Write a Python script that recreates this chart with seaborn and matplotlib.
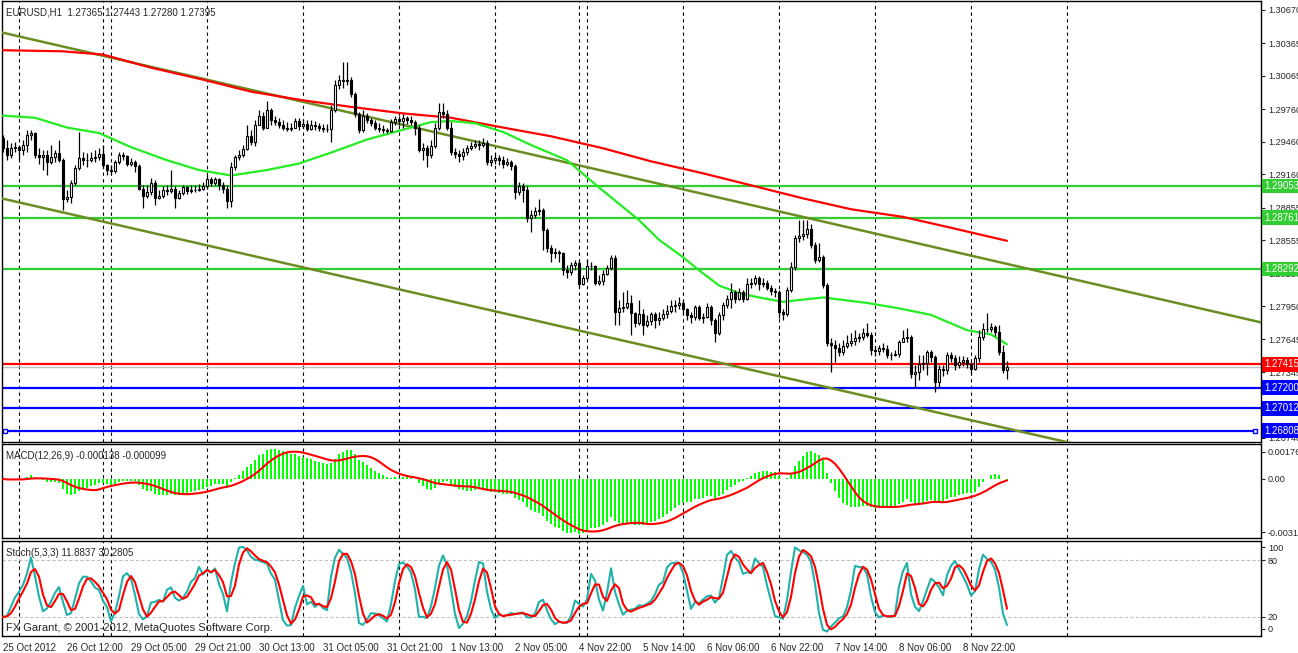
import numpy as np
import pandas as pd
import matplotlib
matplotlib.use("Agg")
import matplotlib.pyplot as plt
import matplotlib.transforms as mtransforms
import seaborn as sns

sns.set_style("white")
plt.rcParams['font.family'] = ['Liberation Sans', 'DejaVu Sans']

# EURUSD H1 candles (bar 0 = 25 Oct 2012 20:00)
first_open = 1.2949
closes = [
    1.2940, 1.2934, 1.2940, 1.2941, 1.2938, 1.2943, 1.2952, 1.2954, 1.2934, 1.2932,
    1.2934, 1.2927, 1.2932, 1.2936, 1.2929, 1.2893, 1.2895, 1.2908, 1.2922, 1.2931,
    1.2929, 1.2929, 1.2931, 1.2932, 1.2935, 1.2925, 1.2920, 1.2919, 1.2927, 1.2934,
    1.2933, 1.2926, 1.2927, 1.2924, 1.2903, 1.2896, 1.2900, 1.2908, 1.2894, 1.2896,
    1.2902, 1.2901, 1.2903, 1.2894, 1.2899, 1.2904, 1.2901, 1.2902, 1.2902, 1.2903,
    1.2905, 1.2912, 1.2908, 1.2912, 1.2906, 1.2903, 1.2892, 1.2923, 1.2932, 1.2934,
    1.2939, 1.2951, 1.2946, 1.2961, 1.2970, 1.2959, 1.2975, 1.2966, 1.2964, 1.2961,
    1.2959, 1.2958, 1.2959, 1.2965, 1.2960, 1.2962, 1.2958, 1.2961, 1.2960, 1.2959,
    1.2958, 1.2958, 1.2975, 1.2998, 1.3003, 1.3002, 1.3003, 1.2990, 1.2971, 1.2957,
    1.2970, 1.2966, 1.2963, 1.2959, 1.2958, 1.2957, 1.2956, 1.2964, 1.2967, 1.2965,
    1.2968, 1.2966, 1.2964, 1.2959, 1.2938, 1.2940, 1.2934, 1.2942, 1.2959, 1.2973,
    1.2971, 1.2959, 1.2937, 1.2935, 1.2933, 1.2937, 1.2940, 1.2942, 1.2944, 1.2943,
    1.2945, 1.2927, 1.2929, 1.2931, 1.2929, 1.2926, 1.2927, 1.2924, 1.2900, 1.2905,
    1.2902, 1.2876, 1.2879, 1.2882, 1.2883, 1.2865, 1.2848, 1.2844, 1.2845, 1.2844,
    1.2828, 1.2826, 1.2833, 1.2835, 1.2815, 1.2821, 1.2832, 1.2832, 1.2816, 1.2818,
    1.2825, 1.2830, 1.2839, 1.2790, 1.2793, 1.2794, 1.2798, 1.2789, 1.2780, 1.2788,
    1.2778, 1.2781, 1.2788, 1.2782, 1.2784, 1.2788, 1.2791, 1.2795, 1.2796, 1.2798,
    1.2792, 1.2787, 1.2785, 1.2794, 1.2784, 1.2785, 1.2794, 1.2782, 1.2770, 1.2787,
    1.2796, 1.2802, 1.2808, 1.2802, 1.2808, 1.2802, 1.2815, 1.2816, 1.2821, 1.2815,
    1.2816, 1.2812, 1.2809, 1.2808, 1.2790, 1.2788, 1.2810, 1.2831, 1.2858, 1.2859,
    1.2861, 1.2866, 1.2851, 1.2837, 1.2840, 1.2814, 1.2761, 1.2759, 1.2757, 1.2753,
    1.2758, 1.2761, 1.2763, 1.2766, 1.2767, 1.2770, 1.2769, 1.2755, 1.2754, 1.2757,
    1.2756, 1.2750, 1.2750, 1.2751, 1.2762, 1.2766, 1.2767, 1.2733, 1.2735, 1.2742,
    1.2743, 1.2753, 1.2748, 1.2725, 1.2737, 1.2736, 1.2750, 1.2747, 1.2741, 1.2744,
    1.2746, 1.2742, 1.2737, 1.2747, 1.2767, 1.2774, 1.2774, 1.2776, 1.2771, 1.2753,
    1.27365, 1.27395,
]
highs = [
    1.2952, 1.2948, 1.2945, 1.2946, 1.2943, 1.2948, 1.2957, 1.2957, 1.2955, 1.2940,
    1.2938, 1.2938, 1.2943, 1.2938, 1.2948, 1.2931, 1.2902, 1.2911, 1.2925, 1.2955,
    1.2937, 1.2936, 1.2937, 1.2938, 1.2940, 1.2943, 1.2926, 1.2925, 1.2929, 1.2937,
    1.2937, 1.2934, 1.2931, 1.2929, 1.2926, 1.2906, 1.2906, 1.2913, 1.2911, 1.2902,
    1.2905, 1.2906, 1.2920, 1.2905, 1.2902, 1.2906, 1.2905, 1.2906, 1.2906, 1.2907,
    1.2909, 1.2915, 1.2914, 1.2914, 1.2913, 1.2909, 1.2906, 1.2927, 1.2934, 1.2938,
    1.2943, 1.2961, 1.2957, 1.2966, 1.2975, 1.2973, 1.2983, 1.2977, 1.2970, 1.2968,
    1.2966, 1.2964, 1.2963, 1.2968, 1.2968, 1.2967, 1.2966, 1.2966, 1.2965, 1.2963,
    1.2962, 1.2962, 1.2980, 1.3003, 1.3007, 1.3019, 1.3019, 1.3005, 1.2992, 1.2973,
    1.2975, 1.2972, 1.2968, 1.2966, 1.2963, 1.2961, 1.2959, 1.2967, 1.2970, 1.2970,
    1.2971, 1.2970, 1.2970, 1.2966, 1.2961, 1.2945, 1.2943, 1.2948, 1.2963, 1.2982,
    1.2982, 1.2975, 1.2964, 1.2940, 1.2938, 1.2940, 1.2943, 1.2946, 1.2948, 1.2948,
    1.2949, 1.2948, 1.2934, 1.2935, 1.2934, 1.2933, 1.2931, 1.2929, 1.2926, 1.2909,
    1.2908, 1.2905, 1.2883, 1.2886, 1.2893, 1.2885, 1.2867, 1.2851, 1.2848, 1.2847,
    1.2845, 1.2833, 1.2836, 1.2837, 1.2837, 1.2824, 1.2837, 1.2836, 1.2833, 1.2824,
    1.2828, 1.2833, 1.2842, 1.2842, 1.2801, 1.2808, 1.2810, 1.2805, 1.2790, 1.2801,
    1.2792, 1.2787, 1.2790, 1.2790, 1.2790, 1.2792, 1.2796, 1.2801, 1.2801, 1.2803,
    1.2801, 1.2793, 1.2790, 1.2796, 1.2796, 1.2789, 1.2798, 1.2796, 1.2784, 1.2790,
    1.2799, 1.2805, 1.2816, 1.2810, 1.2812, 1.2810, 1.2821, 1.2821, 1.2824, 1.2823,
    1.2821, 1.2819, 1.2814, 1.2812, 1.2810, 1.2792, 1.2813, 1.2836, 1.2860, 1.2874,
    1.2874, 1.2874, 1.2870, 1.2854, 1.2853, 1.2842, 1.2816, 1.2766, 1.2764, 1.2761,
    1.2764, 1.2769, 1.2770, 1.2773, 1.2770, 1.2775, 1.2780, 1.2771, 1.2758, 1.2759,
    1.2761, 1.2759, 1.2753, 1.2755, 1.2764, 1.2773, 1.2775, 1.2769, 1.2741, 1.2750,
    1.2750, 1.2755, 1.2755, 1.2750, 1.2741, 1.2741, 1.2753, 1.2753, 1.2750, 1.2749,
    1.2749, 1.2748, 1.2744, 1.2750, 1.2773, 1.2780, 1.2789, 1.2780, 1.2778, 1.2778,
    1.2759, 1.27443,
]
lows = [
    1.2937, 1.2929, 1.2931, 1.2937, 1.2929, 1.2934, 1.2937, 1.2948, 1.2931, 1.2926,
    1.2920, 1.2915, 1.2926, 1.2927, 1.2927, 1.2883, 1.2891, 1.2890, 1.2906, 1.2920,
    1.2925, 1.2923, 1.2927, 1.2927, 1.2929, 1.2922, 1.2915, 1.2916, 1.2917, 1.2926,
    1.2929, 1.2924, 1.2924, 1.2918, 1.2902, 1.2885, 1.2894, 1.2897, 1.2888, 1.2893,
    1.2894, 1.2897, 1.2899, 1.2885, 1.2893, 1.2897, 1.2898, 1.2899, 1.2900, 1.2901,
    1.2902, 1.2903, 1.2905, 1.2906, 1.2902, 1.2899, 1.2885, 1.2886, 1.2920, 1.2929,
    1.2932, 1.2938, 1.2943, 1.2942, 1.2961, 1.2957, 1.2959, 1.2961, 1.2961, 1.2959,
    1.2957, 1.2956, 1.2956, 1.2959, 1.2957, 1.2959, 1.2956, 1.2957, 1.2957, 1.2956,
    1.2955, 1.2955, 1.2946, 1.2973, 1.2994, 1.2995, 1.2998, 1.2987, 1.2969, 1.2954,
    1.2955, 1.2963, 1.2960, 1.2957, 1.2955, 1.2954, 1.2954, 1.2955, 1.2961, 1.2961,
    1.2959, 1.2962, 1.2961, 1.2952, 1.2937, 1.2929, 1.2923, 1.2931, 1.2940, 1.2957,
    1.2968, 1.2957, 1.2934, 1.2931, 1.2927, 1.2929, 1.2934, 1.2938, 1.2940, 1.2938,
    1.2941, 1.2925, 1.2924, 1.2926, 1.2925, 1.2922, 1.2924, 1.2920, 1.2893, 1.2897,
    1.2891, 1.2872, 1.2863, 1.2876, 1.2879, 1.2847, 1.2845, 1.2836, 1.2839, 1.2836,
    1.2824, 1.2821, 1.2824, 1.2828, 1.2812, 1.2814, 1.2819, 1.2828, 1.2814, 1.2814,
    1.2814, 1.2824, 1.2828, 1.2778, 1.2778, 1.2790, 1.2792, 1.2769, 1.2776, 1.2778,
    1.2769, 1.2776, 1.2778, 1.2775, 1.2778, 1.2782, 1.2784, 1.2789, 1.2790, 1.2792,
    1.2788, 1.2782, 1.2780, 1.2782, 1.2782, 1.2780, 1.2784, 1.2778, 1.2762, 1.2769,
    1.2782, 1.2793, 1.2793, 1.2798, 1.2801, 1.2799, 1.2801, 1.2812, 1.2814, 1.2810,
    1.2813, 1.2810, 1.2805, 1.2803, 1.2784, 1.2782, 1.2786, 1.2808, 1.2828, 1.2854,
    1.2856, 1.2858, 1.2848, 1.2835, 1.2836, 1.2812, 1.2758, 1.2735, 1.2744, 1.2749,
    1.2750, 1.2757, 1.2758, 1.2759, 1.2762, 1.2764, 1.2767, 1.2750, 1.2749, 1.2750,
    1.2753, 1.2747, 1.2746, 1.2749, 1.2748, 1.2762, 1.2762, 1.2729, 1.2720, 1.2727,
    1.2736, 1.2732, 1.2744, 1.2716, 1.2720, 1.2731, 1.2733, 1.2744, 1.2736, 1.2738,
    1.2740, 1.2738, 1.2733, 1.2736, 1.2744, 1.2764, 1.2771, 1.2771, 1.2768, 1.2750,
    1.2734, 1.27280,
]

# moving averages, sampled along the drawn lines
red_ma_bars = [0, 15, 25, 37, 50, 62, 75, 87, 100, 112, 125, 137, 150, 162, 175,
               187, 200, 212, 225, 237, 251]
red_ma_vals = [1.3030, 1.3029, 1.3026, 1.3014, 1.3003, 1.2992, 1.2984, 1.2978,
               1.2972, 1.2968, 1.2959, 1.2951, 1.2940, 1.2928, 1.2917, 1.2906,
               1.2894, 1.2884, 1.2877, 1.2867, 1.2855]
green_ma_bars = [0, 8, 16, 24, 32, 41, 49, 57, 66, 74, 82, 91, 100, 107, 112, 118,
                 125, 132, 141, 149, 159, 164, 170, 174, 179, 184, 189, 195, 205,
                 216, 224, 232, 241, 247, 251]
green_ma_vals = [1.2970, 1.2968, 1.2959, 1.2954, 1.2941, 1.2929, 1.2920, 1.2915,
                 1.2920, 1.2926, 1.2936, 1.2948, 1.2957, 1.2964, 1.2965, 1.2963,
                 1.2955, 1.2943, 1.2929, 1.2904, 1.2874, 1.2856, 1.2840, 1.2828,
                 1.2814, 1.2807, 1.2803, 1.2799, 1.2803, 1.2798, 1.2793, 1.2787,
                 1.2773, 1.2769, 1.2760]

# channel lines (bar, price)
upper_channel = ([-0.75, 315.0], [1.30467, 1.27797])
lower_channel = ([-0.75, 315.0], [1.28943, 1.26290])

green_levels = [1.29053, 1.28761, 1.28292]
red_levels = [1.27415]
blue_levels = [1.27200, 1.27012, 1.26808]
bid = 1.27395

price_ticks = [1.30670, 1.30365, 1.30065, 1.29760, 1.29460, 1.29160, 1.28855,
               1.28555, 1.28250, 1.27950, 1.27645, 1.27345, 1.27045, 1.26740]
macd_labels = ["0.00176", "0.00", "-0.00311"]
stoch_labels = ["100", "80", "20", "0"]
grid_bars = [4, 25, 27, 51, 75, 99, 123, 144, 146, 170, 194, 218, 242, 266]
label_bars = list(range(0, 241, 16))
time_labels = ["25 Oct 2012", "26 Oct 12:00", "29 Oct 05:00", "29 Oct 21:00",
               "30 Oct 13:00", "31 Oct 05:00", "31 Oct 21:00", "1 Nov 13:00",
               "2 Nov 05:00", "4 Nov 22:00", "5 Nov 14:00", "6 Nov 06:00",
               "6 Nov 22:00", "7 Nov 14:00", "8 Nov 06:00", "8 Nov 22:00"]

df = pd.DataFrame({"close": closes, "high": highs, "low": lows})
df["open"] = [first_open] + closes[:-1]
df["bar"] = np.arange(len(df))

# MACD(12,26,9) and Stochastic(5,3,3) from the candles
ema12 = df.close.ewm(span=12, adjust=False).mean()
ema26 = df.close.ewm(span=26, adjust=False).mean()
df["macd"] = ema12 - ema26
df["signal"] = df.macd.rolling(9, min_periods=1).mean()
ll = df.low.rolling(5, min_periods=1).min()
hh = df.high.rolling(5, min_periods=1).max()
num = (df.close - ll).rolling(3, min_periods=1).sum()
den = (hh - ll).rolling(3, min_periods=1).sum()
df["k"] = 100 * num / den
df["d"] = df.k.rolling(3, min_periods=1).mean()

W, H = 1298, 653
fig = plt.figure(figsize=(W / 100, H / 100), dpi=100)


def box(top, bottom, left=2, right=1261):
    return [left / W, 1 - bottom / H, (right - left) / W, (bottom - top) / H]


ax = fig.add_axes(box(1, 442))
axm = fig.add_axes(box(444, 538), sharex=ax)
axs = fig.add_axes(box(541, 636), sharex=ax)

FS = 6.6
for a in (ax, axm, axs):
    for s in a.spines.values():
        s.set_color("black")
        s.set_linewidth(1)
    for b in grid_bars:
        a.axvline(b, color="black", ls=(0, (3, 3)), lw=0.8, zorder=1)
    a.yaxis.tick_right()
    a.tick_params(axis="y", length=3, labelsize=FS, pad=2, direction="out")
    a.tick_params(axis="x", length=0, labelbottom=False)

# ---- main price panel ----
for lv in green_levels:
    ax.axhline(lv, color="#32CD32", lw=1.6, zorder=2)
ax.axhline(bid, color="#C0C0C0", lw=1, zorder=2)
for lv in red_levels:
    ax.axhline(lv, color="red", lw=1.6, zorder=2)
for lv in blue_levels[:2]:
    ax.axhline(lv, color="blue", lw=1.6, zorder=2)
ax.plot([0.5, 313], [blue_levels[2]] * 2, color="blue", lw=1.6, zorder=2,
        marker="s", ms=3, mfc="white", mec="blue", mew=1)

sns.lineplot(x=upper_channel[0], y=upper_channel[1], ax=ax, color="#6B8E23",
             lw=1.8, zorder=3)
sns.lineplot(x=lower_channel[0], y=lower_channel[1], ax=ax, color="#6B8E23",
             lw=1.8, zorder=3)
sns.lineplot(x=red_ma_bars, y=red_ma_vals, ax=ax, color="red", lw=1.6,
             estimator=None, zorder=4)
sns.lineplot(x=green_ma_bars, y=green_ma_vals, ax=ax, color="#22EE22", lw=1.6,
             estimator=None, zorder=4)

o = df.open.values
c = df.close.values
lo = np.minimum(df.low.values, np.minimum(o, c))
hi = np.maximum(df.high.values, np.maximum(o, c))
up = c >= o
ax.vlines(df.bar, lo, hi, color="black", lw=0.9, zorder=5)
body = np.maximum(np.abs(c - o), 0.00001)
ax.bar(df.bar[up], body[up], bottom=o[up], width=0.55, color="white",
       edgecolor="black", lw=0.8, zorder=6)
ax.bar(df.bar[~up], body[~up], bottom=c[~up], width=0.55, color="black",
       edgecolor="black", lw=0.8, zorder=6)

ax.set_xlim(-0.25, 314.5)
ax.set_ylim(1.26703, 1.30752)
ax.set_yticks(price_ticks)
ax.set_yticklabels([f"{p:.5f}" for p in price_ticks])
ax.set_xlabel("")
ax.set_ylabel("")

tr = mtransforms.blended_transform_factory(ax.transAxes, ax.transData)
for levels, col in ((green_levels, "#32CD32"), (red_levels, "red"),
                    (blue_levels, "blue")):
    for lv in levels:
        ax.text(1.0028, lv, f"{lv:.5f}", transform=tr, ha="left", va="center",
                color="white", fontsize=FS + 0.4, zorder=10, clip_on=False,
                bbox=dict(boxstyle="square,pad=0.25", fc=col, ec="none"))

ax.text(0.003, 0.985, "EURUSD,H1  1.27365 1.27443 1.27280 1.27395",
        transform=ax.transAxes, ha="left", va="top", fontsize=FS + 0.4)

# ---- MACD panel ----
axm.bar(df.bar, df.macd, width=0.6, color="#00FF00", edgecolor="none",
        lw=0, zorder=3)
sns.lineplot(x=df.bar, y=df.signal, ax=axm, color="red", lw=1.5, zorder=4)
axm.set_ylim(-0.00306, 0.00181)
# MT4 draws the extreme labels slightly inside the panel
axm.set_yticks([0.0014, 0.0, -0.00275])
axm.set_yticklabels(macd_labels)
axm.set_xlabel("")
axm.set_ylabel("")
axm.text(0.003, 0.93, "MACD(12,26,9) -0.000138 -0.000099",
         transform=axm.transAxes, ha="left", va="top", fontsize=FS + 0.4)

# ---- Stochastic panel ----
for lv in (20, 80):
    axs.axhline(lv, color="#C0C0C0", ls=(0, (3, 2)), lw=0.8, zorder=2)
sns.lineplot(x=df.bar, y=df.k, ax=axs, color="#20B2AA", lw=1.5, zorder=3)
sns.lineplot(x=df.bar, y=df.d, ax=axs, color="red", lw=1.5, zorder=4)
axs.set_ylim(0, 100)
axs.set_yticks([93.5, 80, 20, 7.5])
axs.set_yticklabels(stoch_labels)
axs.set_xlabel("")
axs.set_ylabel("")
axs.text(0.003, 0.93, "Stoch(5,3,3) 11.8837 30.2805",
         transform=axs.transAxes, ha="left", va="top", fontsize=FS + 0.4)
axs.text(0.003, 0.03, "FX Garant, © 2001-2012, MetaQuotes Software Corp.",
         transform=axs.transAxes, ha="left", va="bottom", fontsize=8)

axs.set_xticks(label_bars)
axs.set_xticklabels(time_labels)
axs.tick_params(axis="x", length=3, direction="out", labelbottom=True,
                labelsize=FS + 0.4, pad=2)
for t in axs.get_xticklabels():
    t.set_ha("left")

fig.savefig("out.png", dpi=100)
